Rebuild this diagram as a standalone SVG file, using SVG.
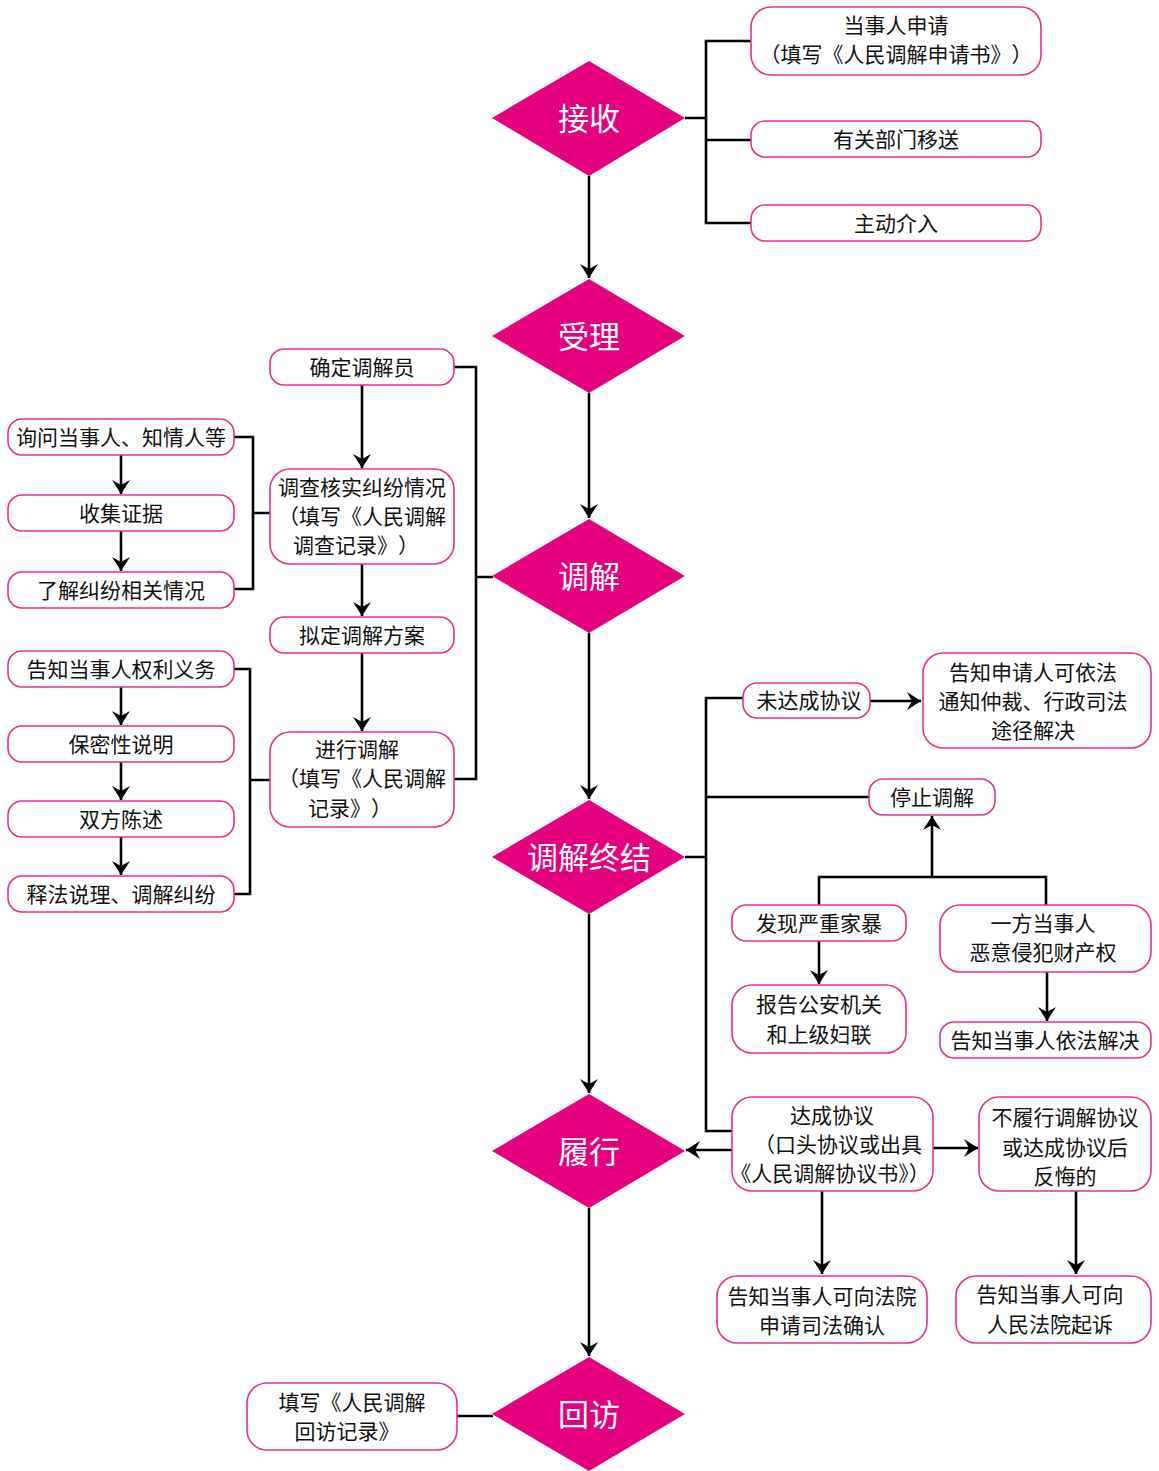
<svg xmlns="http://www.w3.org/2000/svg" width="1159" height="1471" viewBox="0 0 1159 1471">
<defs>
<marker id="ah" markerUnits="userSpaceOnUse" markerWidth="20" markerHeight="20" refX="14" refY="9" orient="auto">
<path d="M0,0 L14,9 L0,18 L5,9 Z" fill="#000"/>
</marker>
<style>
text{text-spacing-trim:space-all;font-feature-settings:"halt" 0,"chws" 0;}
text.trim{text-spacing-trim:normal;font-feature-settings:normal;}
.d{fill:#E4007F;}
.dt{fill:#fff;font-family:"Noto Sans CJK SC","Noto Sans",sans-serif;font-size:31px;text-anchor:middle;dominant-baseline:central;}
.b{fill:#fff;stroke:#E8308F;stroke-width:1.6;}
.t{fill:#111;font-family:"Noto Sans CJK SC","Noto Sans",sans-serif;font-size:21px;text-anchor:middle;dominant-baseline:central;}
.c{fill:none;stroke:#000;stroke-width:2.6;}
.a{marker-end:url(#ah);}
</style>
</defs>
<rect width="1159" height="1471" fill="#fff"/>

<g id="connectors">
<path class="c a" d="M589,176 V278"/>
<path class="c a" d="M589,393 V518"/>
<path class="c a" d="M589,633 V799"/>
<path class="c a" d="M589,914 V1093"/>
<path class="c a" d="M589,1208 V1356"/>
<path class="c" d="M685,118 H706 M751,41 H706 V223 H751 M706,140 H751"/>
<path class="c a" d="M362,385 V468"/>
<path class="c a" d="M362,564 V616"/>
<path class="c a" d="M362,653 V731"/>
<path class="c" d="M454,367 H476 V779 H454 M476,577 H493"/>
<path class="c a" d="M121,455 V494"/>
<path class="c a" d="M121,531 V571"/>
<path class="c" d="M234,437 H253 V589 H234 M253,513 H270"/>
<path class="c a" d="M121,687 V725"/>
<path class="c a" d="M121,762 V800"/>
<path class="c a" d="M121,837 V875"/>
<path class="c" d="M234,669 H250 V894 H234 M250,780 H270"/>
<path class="c" d="M685,857 H706 M743,698 H706 V1131 H732 M706,797 H869"/>
<path class="c a" d="M870,701 H921"/>
<path class="c a" d="M932,877 V816"/>
<path class="c" d="M819,905 V877 H1046 V905"/>
<path class="c a" d="M819,941 V984"/>
<path class="c a" d="M1047,972 V1021"/>
<path class="c a" d="M732,1150 H686"/>
<path class="c a" d="M933,1148 H978"/>
<path class="c a" d="M822,1191 V1274"/>
<path class="c a" d="M1076,1191 V1274"/>
<path class="c" d="M457,1416 H493"/>
</g>

<g id="n-jieshou"><polygon class="d" points="589,61 685,118 589,176 492,118"/><text class="dt" x="589" y="116">接收</text></g>
<g id="n-shouli"><polygon class="d" points="589,279 685,336 589,393 492,336"/><text class="dt" x="589" y="334">受理</text></g>
<g id="n-tiaojie"><polygon class="d" points="589,519 685,576 589,633 492,576"/><text class="dt" x="589" y="574">调解</text></g>
<g id="n-zhongjie"><polygon class="d" points="589,800 685,857 589,914 492,857"/><text class="dt" x="589" y="855">调解终结</text></g>
<g id="n-lvxing"><polygon class="d" points="589,1094 685,1151 589,1208 492,1151"/><text class="dt" x="589" y="1149">履行</text></g>
<g id="n-huifang"><polygon class="d" points="589,1357 685,1414 589,1471 492,1414"/><text class="dt" x="589" y="1412">回访</text></g>

<g id="n-shenqing"><rect class="b" x="751" y="7" width="290" height="68" rx="20"/><text class="t" x="896" y="24">当事人申请</text><text class="t" x="896" y="53">（填写《人民调解申请书》）</text></g>
<g id="n-yisong"><rect class="b" x="751" y="121" width="290" height="36" rx="14"/><text class="t" x="896" y="138">有关部门移送</text></g>
<g id="n-jieru"><rect class="b" x="751" y="205" width="290" height="36" rx="14"/><text class="t" x="896" y="222">主动介入</text></g>

<g id="n-queding"><rect class="b" x="270" y="349" width="184" height="36" rx="14"/><text class="t" x="362" y="366">确定调解员</text></g>
<g id="n-diaocha"><rect class="b" x="270" y="469" width="184" height="95" rx="20"/><text class="t" x="362" y="486">调查核实纠纷情况</text><text class="t" x="362" y="515">（填写《人民调解</text><text class="t" x="356" y="544">调查记录》）</text></g>
<g id="n-niding"><rect class="b" x="270" y="617" width="184" height="36" rx="14"/><text class="t" x="362" y="634">拟定调解方案</text></g>
<g id="n-jinxing"><rect class="b" x="270" y="732" width="184" height="95" rx="20"/><text class="t" x="357" y="748">进行调解</text><text class="t" x="362" y="777">（填写《人民调解</text><text class="t" x="350" y="807">记录》）</text></g>

<g id="n-xunwen"><rect class="b" x="8" y="419" width="226" height="36" rx="14"/><text class="t" x="121" y="436">询问当事人、知情人等</text></g>
<g id="n-shouji"><rect class="b" x="8" y="495" width="226" height="36" rx="14"/><text class="t" x="121" y="512">收集证据</text></g>
<g id="n-liaojie"><rect class="b" x="8" y="572" width="226" height="36" rx="14"/><text class="t" x="121" y="589">了解纠纷相关情况</text></g>

<g id="n-gaozhi"><rect class="b" x="8" y="651" width="226" height="36" rx="14"/><text class="t" x="121" y="668">告知当事人权利义务</text></g>
<g id="n-baomi"><rect class="b" x="8" y="726" width="226" height="36" rx="14"/><text class="t" x="121" y="743">保密性说明</text></g>
<g id="n-chenshu"><rect class="b" x="8" y="801" width="226" height="36" rx="14"/><text class="t" x="121" y="818">双方陈述</text></g>
<g id="n-shifa"><rect class="b" x="8" y="876" width="226" height="36" rx="14"/><text class="t" x="121" y="893">释法说理、调解纠纷</text></g>

<g id="n-weidacheng"><rect class="b" x="743" y="683" width="127" height="35" rx="14"/><text class="t" x="809" y="699">未达成协议</text></g>
<g id="n-gaozhishenqing"><rect class="b" x="923" y="653" width="228" height="95" rx="20"/><text class="t" x="1033" y="671">告知申请人可依法</text><text class="t" x="1033" y="700">通知仲裁、行政司法</text><text class="t" x="1033" y="729">途径解决</text></g>
<g id="n-tingzhi"><rect class="b" x="869" y="779" width="126" height="36" rx="14"/><text class="t" x="932" y="796">停止调解</text></g>
<g id="n-jiabao"><rect class="b" x="732" y="905" width="174" height="36" rx="14"/><text class="t" x="819" y="922">发现严重家暴</text></g>
<g id="n-baogao"><rect class="b" x="732" y="985" width="174" height="68" rx="20"/><text class="t" x="819" y="1003">报告公安机关</text><text class="t" x="819" y="1033">和上级妇联</text></g>
<g id="n-yifang"><rect class="b" x="940" y="905" width="211" height="67" rx="20"/><text class="t" x="1043" y="922">一方当事人</text><text class="t" x="1043" y="951">恶意侵犯财产权</text></g>
<g id="n-yifa"><rect class="b" x="940" y="1022" width="211" height="36" rx="14"/><text class="t" x="1045" y="1039">告知当事人依法解决</text></g>

<g id="n-dacheng"><rect class="b" x="732" y="1097" width="201" height="94" rx="20"/><text class="t" x="832" y="1114">达成协议</text><text class="t" x="838" y="1143">（口头协议或出具</text><text class="t trim" x="830" y="1172">《人民调解协议书》）</text></g>
<g id="n-bulvxing"><rect class="b" x="979" y="1097" width="172" height="94" rx="20"/><text class="t" x="1065" y="1116">不履行调解协议</text><text class="t" x="1065" y="1146">或达成协议后</text><text class="t" x="1065" y="1175">反悔的</text></g>
<g id="n-sifa"><rect class="b" x="717" y="1276" width="210" height="67" rx="20"/><text class="t" x="822" y="1295">告知当事人可向法院</text><text class="t" x="822" y="1324">申请司法确认</text></g>
<g id="n-qisu"><rect class="b" x="956" y="1276" width="195" height="67" rx="20"/><text class="t" x="1050" y="1293">告知当事人可向</text><text class="t" x="1050" y="1323">人民法院起诉</text></g>

<g id="n-huifangjilu"><rect class="b" x="247" y="1383" width="210" height="67" rx="20"/><text class="t" x="352" y="1401">填写《人民调解</text><text class="t" x="347" y="1430">回访记录》</text></g>
</svg>
